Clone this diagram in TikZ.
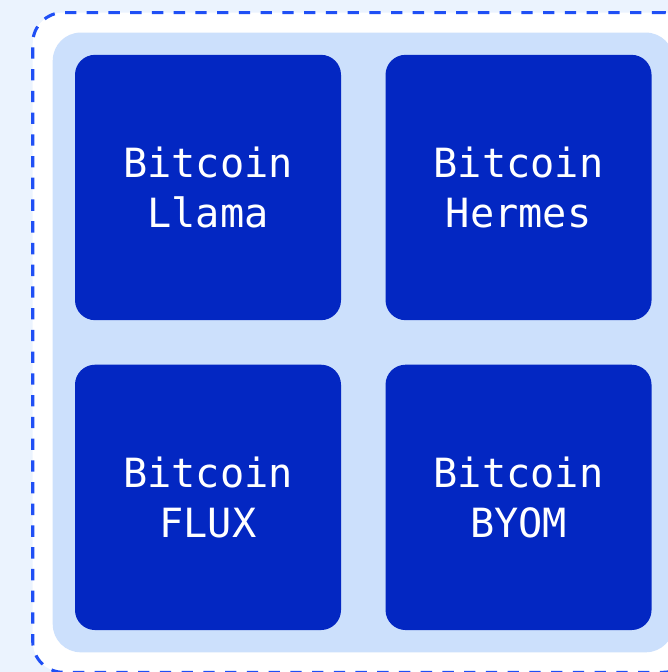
\documentclass[tikz,border=0pt]{standalone}
\usepackage{fontspec}
\setmonofont{DejaVu Sans Mono}
\usetikzlibrary{positioning,fit,backgrounds}
\definecolor{modelblue}{HTML}{0327C2}
\definecolor{poolblue}{HTML}{CCE0FC}
\definecolor{edgeblue}{HTML}{1F4FF5}
\definecolor{pageblue}{HTML}{EBF3FE}

\begin{document}
\begin{tikzpicture}[x=0.75pt,y=-0.75pt,
    box/.style={fill=modelblue,rounded corners=15pt,align=center,text=white,minimum width=199.5pt,minimum height=199pt,inner sep=0pt,font=\ttfamily\fontsize{30.2}{37.5}\selectfont},
    node distance=33pt]
  \useasboundingbox (0,0) rectangle (668,672);

  \node[box] (llama) at (208,187.5) {Bitcoin\\Llama};
  \node[box,right=of llama] (hermes) {Bitcoin\\Hermes};
  \node[box,below=of llama] (flux) {Bitcoin\\FLUX};
  \node[box,below=of hermes] (byom) {Bitcoin\\BYOM};

  \begin{scope}[on background layer]
    \fill[pageblue] (0,0) rectangle (668,672);
    \node[fit=(llama)(byom),inner sep=31.5pt,draw=edgeblue,fill=white,line width=2.3pt,dash pattern=on 8.5pt off 7.8pt,rounded corners=23pt] (frame) {};
    \node[fit=(llama)(byom),inner sep=16.5pt,fill=poolblue,rounded corners=21pt] (pool) {};
  \end{scope}
\end{tikzpicture}
\end{document}
